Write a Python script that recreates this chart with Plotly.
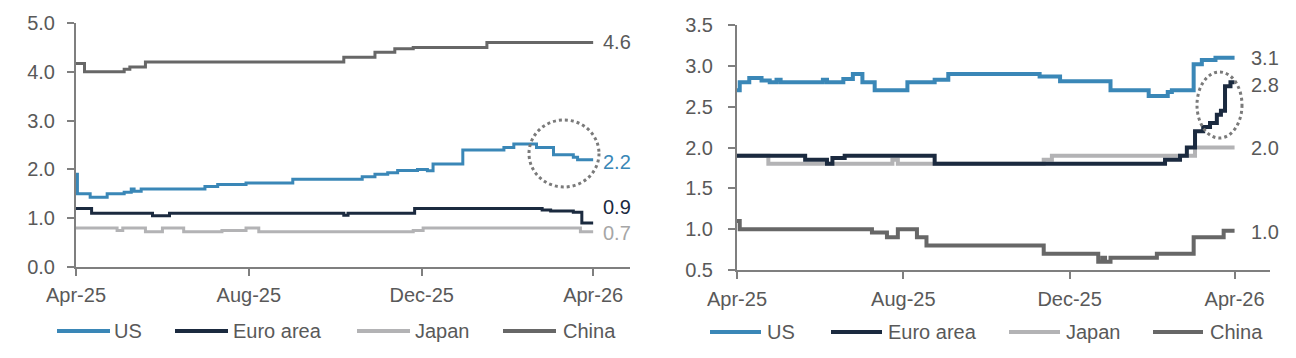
import plotly.graph_objects as go

# The page body has an 8px margin, so the figure is sized to fit the 1296x358 window.
OFF = 8
W, H = 1296 - 2 * OFF, 358 - 2 * OFF

# ---------------- Left panel data ----------------
l_us_dates = ["2025-04-01", "2025-04-02", "2025-04-11", "2025-04-23", "2025-05-05", "2025-05-10",
              "2025-05-12", "2025-05-17", "2025-07-01", "2025-07-10", "2025-07-30", "2025-09-01",
              "2025-10-20", "2025-10-29", "2025-11-07", "2025-11-14", "2025-11-28", "2025-12-05",
              "2025-12-09", "2025-12-30", "2026-01-28", "2026-02-04", "2026-02-20", "2026-03-04",
              "2026-03-18", "2026-03-21", "2026-04-01"]
l_us_vals = [1.90, 1.50, 1.43, 1.50, 1.53, 1.60, 1.55, 1.60, 1.65, 1.69, 1.72, 1.80,
             1.85, 1.90, 1.93, 1.98, 2.00, 1.97, 2.11, 2.40, 2.45, 2.52, 2.45, 2.30,
             2.25, 2.20, 2.20]

l_ea_dates = ["2025-04-01", "2025-04-12", "2025-05-25", "2025-06-06", "2025-10-07", "2025-10-10",
              "2025-11-26", "2026-02-24", "2026-03-02", "2026-03-18", "2026-03-24", "2026-04-01"]
l_ea_vals = [1.20, 1.10, 1.05, 1.10, 1.06, 1.10, 1.20, 1.17, 1.15, 1.12, 0.90, 0.90]

l_jp_dates = ["2025-04-01", "2025-04-30", "2025-05-04", "2025-05-20", "2025-06-01", "2025-06-16",
              "2025-07-13", "2025-07-30", "2025-08-08", "2025-11-25", "2025-12-02", "2026-03-23",
              "2026-04-01"]
l_jp_vals = [0.80, 0.75, 0.80, 0.72, 0.80, 0.72, 0.75, 0.80, 0.72, 0.75, 0.80, 0.72, 0.72]

l_cn_dates = ["2025-04-01", "2025-04-07", "2025-05-05", "2025-05-09", "2025-05-20", "2025-10-07",
              "2025-10-29", "2025-11-12", "2025-11-25", "2026-01-16", "2026-04-01"]
l_cn_vals = [4.17, 4.00, 4.05, 4.10, 4.20, 4.30, 4.40, 4.47, 4.50, 4.60, 4.60]

# ---------------- Right panel data ----------------
r_us_dates = ["2025-04-01", "2025-04-03", "2025-04-10", "2025-04-19", "2025-04-25", "2025-04-30",
              "2025-05-03", "2025-06-03", "2025-06-06", "2025-06-18", "2025-06-25", "2025-07-02",
              "2025-07-11", "2025-08-04", "2025-08-24", "2025-09-03", "2025-11-09", "2025-11-24",
              "2025-12-31", "2026-01-28", "2026-02-11", "2026-02-14", "2026-03-02", "2026-03-08",
              "2026-03-18", "2026-04-01"]
r_us_vals = [2.70, 2.80, 2.85, 2.82, 2.80, 2.83, 2.80, 2.83, 2.80, 2.84, 2.90, 2.80,
             2.70, 2.80, 2.83, 2.90, 2.87, 2.81, 2.70, 2.63, 2.68, 2.70, 3.02, 3.07,
             3.10, 3.10]

r_ea_dates = ["2025-04-01", "2025-05-21", "2025-06-06", "2025-06-10", "2025-06-19", "2025-08-24",
              "2026-02-09", "2026-02-20", "2026-02-25", "2026-03-03", "2026-03-09", "2026-03-14",
              "2026-03-19", "2026-03-22", "2026-03-25", "2026-03-29", "2026-04-01"]
r_ea_vals = [1.90, 1.85, 1.80, 1.87, 1.90, 1.80, 1.85, 1.90, 2.00, 2.20, 2.25, 2.30,
             2.40, 2.45, 2.75, 2.80, 2.80]

r_jp_dates = ["2025-04-01", "2025-04-24", "2025-07-24", "2025-07-28", "2025-11-12", "2025-11-18",
              "2026-03-03", "2026-04-01"]
r_jp_vals = [1.90, 1.80, 1.85, 1.80, 1.85, 1.90, 2.00, 2.00]

r_cn_dates = ["2025-04-01", "2025-04-03", "2025-07-09", "2025-07-20", "2025-07-28", "2025-08-11",
              "2025-08-18", "2025-11-12", "2025-12-22", "2025-12-25", "2025-12-27", "2025-12-31",
              "2026-02-03", "2026-03-02", "2026-03-24", "2026-04-01"]
r_cn_vals = [1.10, 1.00, 0.96, 0.90, 1.00, 0.90, 0.80, 0.70, 0.60, 0.65, 0.60, 0.65,
             0.70, 0.90, 0.98, 0.98]

series_names = ["US", "Euro area", "Japan", "China"]
colors = {"US": "#3A87B7", "Euro area": "#1B2A3F", "Japan": "#B3B3B5", "China": "#676767"}

x_tick_vals = ["2025-04-01", "2025-08-01", "2025-12-01", "2026-04-01"]
x_tick_text = ["Apr-25", "Aug-25", "Dec-25", "Apr-26"]
l_y_ticks = [0, 1, 2, 3, 4, 5]
r_y_ticks = [0.5, 1.0, 1.5, 2.0, 2.5, 3.0, 3.5]

FONT = "Arial, Liberation Sans, sans-serif"
TXT = "#595959"
AX = "#7f7f7f"
FS = 20


def px_x(p):
    """window pixel -> paper x"""
    return (p - OFF) / W


def px_y(p):
    """window pixel -> paper y"""
    return 1 - (p - OFF) / H


fig = go.Figure()

left = {"US": (l_us_dates, l_us_vals), "Euro area": (l_ea_dates, l_ea_vals),
        "Japan": (l_jp_dates, l_jp_vals), "China": (l_cn_dates, l_cn_vals)}
right = {"US": (r_us_dates, r_us_vals), "Euro area": (r_ea_dates, r_ea_vals),
         "Japan": (r_jp_dates, r_jp_vals), "China": (r_cn_dates, r_cn_vals)}

for name in ["Japan", "Euro area", "China", "US"]:
    d, v = left[name]
    fig.add_trace(go.Scatter(x=d, y=v, mode="lines", line=dict(color=colors[name], width=3, shape="hv"),
                             name=name, showlegend=False, xaxis="x", yaxis="y", hoverinfo="skip"))
for name in ["China", "Japan", "Euro area", "US"]:
    d, v = right[name]
    fig.add_trace(go.Scatter(x=d, y=v, mode="lines", line=dict(color=colors[name], width=4, shape="hv"),
                             name=name, showlegend=False, xaxis="x2", yaxis="y2", hoverinfo="skip"))

axis_common = dict(showline=True, linecolor=AX, linewidth=2, ticks="outside", ticklen=7, tickwidth=2,
                   tickcolor=AX, showgrid=False, zeroline=False, automargin=False,
                   tickfont=dict(family=FONT, size=FS, color=TXT))

fig.update_layout(
    width=W, height=H, autosize=False,
    margin=dict(l=0, r=0, t=0, b=0, autoexpand=False),
    paper_bgcolor="white", plot_bgcolor="white",
    xaxis=dict(axis_common, type="date", range=["2025-04-01", "2026-04-27"],
               tickvals=x_tick_vals, ticktext=x_tick_text,
               domain=[px_x(76), px_x(630)], anchor="y", ticklabelstandoff=2),
    yaxis=dict(axis_common, range=[0, 5], tickvals=l_y_ticks,
               ticktext=[f"{t:.1f}" for t in l_y_ticks],
               domain=[px_y(267), px_y(23)], anchor="x", ticklabelstandoff=8),
    xaxis2=dict(axis_common, type="date", range=["2025-04-01", "2026-04-27"],
                tickvals=x_tick_vals, ticktext=x_tick_text,
                domain=[px_x(737), px_x(1270)], anchor="y2", ticklabelstandoff=3),
    yaxis2=dict(axis_common, range=[0.5, 3.5], tickvals=r_y_ticks,
                ticktext=[f"{t:.1f}" for t in r_y_ticks],
                domain=[px_y(270), px_y(25)], anchor="x2", ticklabelstandoff=11),
)

shapes = []
annotations = []

# Legends (drawn as line samples + text)
legend_left = [(57, 110, 112), (175, 228, 231), (357, 410, 413), (503, 556, 561)]
legend_right = [(710, 761, 765), (831, 882, 886), (1009, 1060, 1064), (1153, 1203, 1208)]
for (x0, x1, tx), name in zip(legend_left, series_names):
    shapes.append(dict(type="line", xref="paper", yref="paper", x0=px_x(x0), x1=px_x(x1),
                       y0=px_y(331), y1=px_y(331), line=dict(color=colors[name], width=4)))
    annotations.append(dict(xref="paper", yref="paper", x=px_x(tx), y=px_y(331), text=name,
                            showarrow=False, xanchor="left", yanchor="middle",
                            font=dict(family=FONT, size=FS, color=TXT)))
for (x0, x1, tx), name in zip(legend_right, series_names):
    shapes.append(dict(type="line", xref="paper", yref="paper", x0=px_x(x0), x1=px_x(x1),
                       y0=px_y(332), y1=px_y(332), line=dict(color=colors[name], width=4)))
    annotations.append(dict(xref="paper", yref="paper", x=px_x(tx), y=px_y(332), text=name,
                            showarrow=False, xanchor="left", yanchor="middle",
                            font=dict(family=FONT, size=FS, color=TXT)))

# End labels
left_labels = [("4.6", 4.61, "#595959"), ("2.2", 2.15, colors["US"]),
               ("0.9", 1.23, colors["Euro area"]), ("0.7", 0.70, "#A6A6A6")]
for txt, yv, c in left_labels:
    annotations.append(dict(xref="x", yref="y", x="2026-04-01", y=yv, text=txt, showarrow=False,
                            xanchor="left", yanchor="middle", xshift=8,
                            font=dict(family=FONT, size=FS, color=c)))
right_labels = [("3.1", 3.09), ("2.8", 2.76), ("2.0", 1.99), ("1.0", 0.97)]
for txt, yv in right_labels:
    annotations.append(dict(xref="x2", yref="y2", x="2026-04-01", y=yv, text=txt, showarrow=False,
                            xanchor="left", yanchor="middle", xshift=14,
                            font=dict(family=FONT, size=FS, color="#595959")))

# Dotted highlight circles
shapes.append(dict(type="circle", xref="paper", yref="paper", x0=px_x(529), x1=px_x(599),
                   y0=px_y(187), y1=px_y(120), line=dict(color="#7a7a7a", width=3, dash="dot")))
shapes.append(dict(type="circle", xref="paper", yref="paper", x0=px_x(1197), x1=px_x(1242),
                   y0=px_y(138), y1=px_y(72), line=dict(color="#7a7a7a", width=3, dash="dot")))

fig.update_layout(shapes=shapes, annotations=annotations)

fig.write_html("out.html")
